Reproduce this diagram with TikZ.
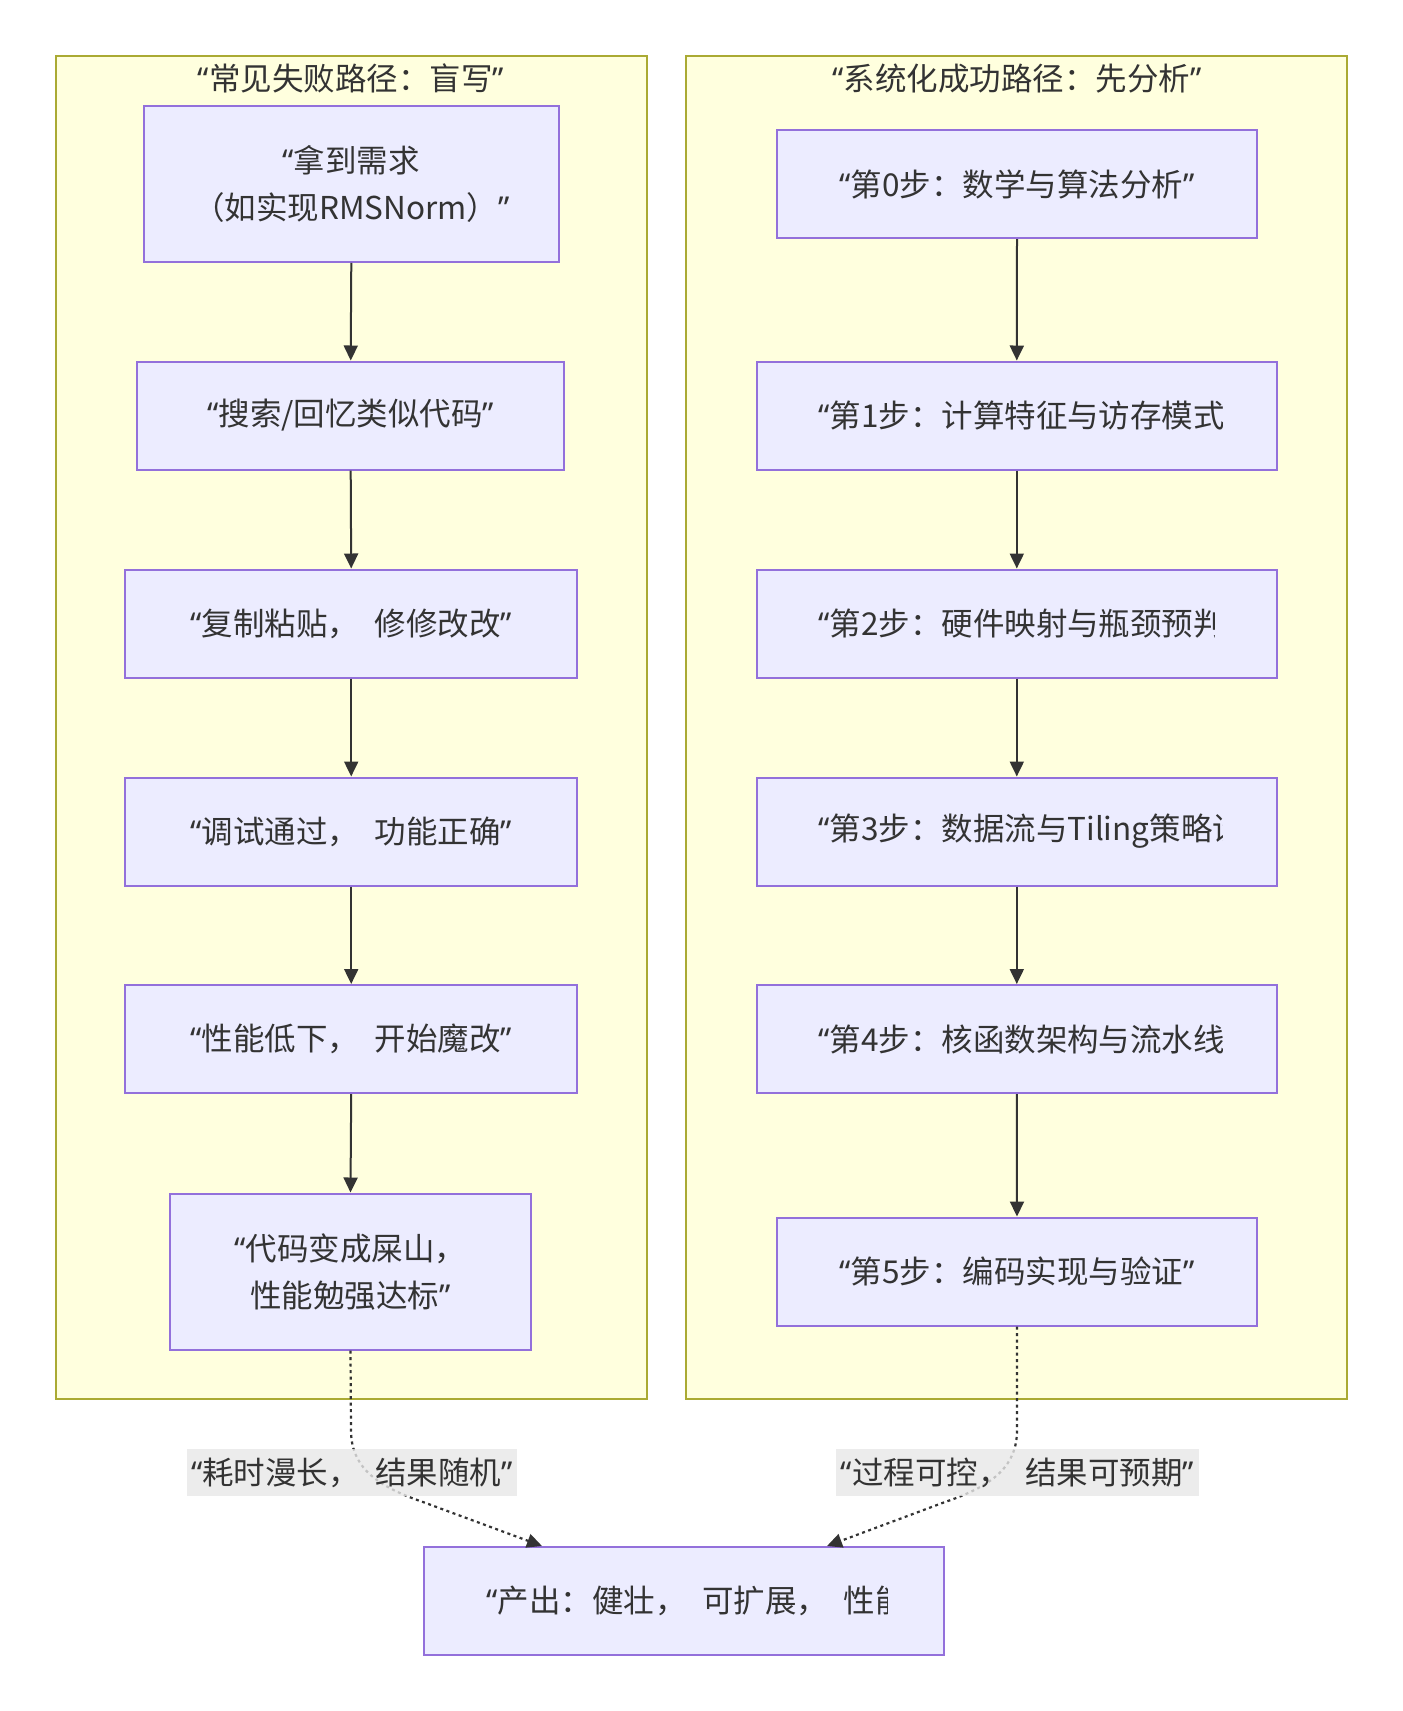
\documentclass[tikz,border=0pt]{standalone}
\usepackage{fontspec}
\setmainfont[WordSpace=2.2]{Noto Sans CJK SC}
\newfontfamily\latinfont{Noto Sans}
\usetikzlibrary{arrows.meta,calc}
\definecolor{clfill}{HTML}{FFFFDE}
\definecolor{clstroke}{HTML}{AAAA33}
\definecolor{nfill}{HTML}{ECECFF}
\definecolor{nstroke}{HTML}{9370DB}
\definecolor{ink}{HTML}{333333}
\definecolor{lblbg}{HTML}{E8E8E8}
\newcommand\oq{{\latinfont “}}
\newcommand\cq{{\latinfont ”}}
\tikzset{
  cluster/.style={draw=clstroke, fill=clfill, line width=2pt},
  box/.style={draw=nstroke, fill=nfill, line width=2pt, align=center, inner sep=0pt, text=ink},
  flow/.style={draw=ink, line width=2pt, -{Triangle[length=15pt,width=14pt]}},
  dotflow/.style={flow, line width=2.2pt, dash pattern=on 3pt off 3.5pt},
  elabel/.style={fill=lblbg, fill opacity=0.8, text opacity=1, inner sep=0pt, minimum height=47pt, text=ink},
  ttl/.style={inner sep=0pt, text=ink},
  cut/.style={anchor=west, inner sep=0pt, text=ink}
}
\begin{document}
\begin{tikzpicture}[x=1pt, y=-1pt, font=\fontsize{31.5}{47}\selectfont]
\useasboundingbox (0,0) rectangle (1403,1711);
\fill[white] (0,0) rectangle (1403,1711);
% clusters
\draw[cluster] (55.6,55.6) rectangle (647,1398.6);
\draw[cluster] (686,55.6) rectangle (1347,1398.6);
\node[ttl] (t1) at (351,78.5) {\oq 常见失败路径：盲写\cq};
\node[ttl] (t2) at (1017,78.5) {\oq 系统化成功路径：先分析\cq};
% left column
\node[box, minimum width=414.6pt, minimum height=155.8pt] (a) at (351.3,184) {\oq 拿到需求\\（如实现RMSNorm）\cq};
\node[box, minimum width=426.5pt, minimum height=108pt] (b) at (350.7,415.5) {\oq 搜索/回忆类似代码\cq};
\node[box, minimum width=451.5pt, minimum height=108pt] (c) at (351.2,623.5) {\oq 复制粘贴， 修修改改\cq};
\node[box, minimum width=451.5pt, minimum height=108pt] (d) at (351.2,831.5) {\oq 调试通过， 功能正确\cq};
\node[box, minimum width=451.5pt, minimum height=108pt] (e) at (351.2,1039) {\oq 性能低下， 开始魔改\cq};
\node[box, minimum width=361pt, minimum height=156pt] (f) at (350.5,1271.5) {\oq 代码变成屎山，\\性能勉强达标\cq};
% right column
\node[box, minimum width=480pt, minimum height=108pt] (r0) at (1017,184) {\oq 第0步：数学与算法分析\cq};
\node[box, minimum width=519.5pt, minimum height=108pt] (r1) at (1016.8,415.5) {};
\node[box, minimum width=519.5pt, minimum height=108pt] (r2) at (1016.8,623.5) {};
\node[box, minimum width=519.5pt, minimum height=108pt] (r3) at (1016.8,831.5) {};
\node[box, minimum width=519.5pt, minimum height=108pt] (r4) at (1016.8,1039) {};
\node[box, minimum width=480pt, minimum height=108pt] (r5) at (1017,1271.5) {\oq 第5步：编码实现与验证\cq};
\node[box, minimum width=519.3pt, minimum height=108pt] (out) at (684,1601) {};
% clipped texts
\begin{scope}
\clip (818,360) rectangle (1222,470);
\node[cut] (r1t) at (818,415.5) {\oq 第1步：计算特征与访存模式分析\cq};
\end{scope}
\begin{scope}
\clip (818,570) rectangle (1214,677);
\node[cut] (r2t) at (818,623.5) {\oq 第2步：硬件映射与瓶颈预判\cq};
\end{scope}
\begin{scope}
\clip (818,770) rectangle (1222,1100);
\node[cut] (r3t) at (818,831.5) {\oq 第3步：数据流与Tiling策略设计\cq};
\node[cut] (r4t) at (818,1039) {\oq 第4步：核函数架构与流水线设计\cq};
\end{scope}
\begin{scope}
\clip (486,1550) rectangle (887,1650);
\node[cut] (outt) at (486,1601) {\oq 产出：健壮， 可扩展， 性能卓越\cq};
\end{scope}
% arrows
\draw[flow] (a.south) -- (b.north);
\draw[flow] (b.south) -- (c.north);
\draw[flow] (c.south) -- (d.north);
\draw[flow] (d.south) -- (e.north);
\draw[flow] (e.south) -- (f.north);
\draw[flow] (r0.south) -- (r1.north);
\draw[flow] (r1.south) -- (r2.north);
\draw[flow] (r2.south) -- (r3.north);
\draw[flow] (r3.south) -- (r4.north);
\draw[flow] (r4.south) -- (r5.north);
\draw[dotflow] (f.south) -- (351,1430) .. controls (351,1465) and (373,1485) .. (423,1502) -- ($(out.north)+(-142,0)$);
\draw[dotflow] (r5.south) -- (1017,1430) .. controls (1017,1465) and (995,1485) .. (945,1502) -- ($(out.north)+(143,0)$);
\node[elabel, minimum width=330pt] (l1) at (352,1472.5) {\oq 耗时漫长， 结果随机\cq};
\node[elabel, minimum width=363pt] (l2) at (1017.5,1472.5) {\oq 过程可控， 结果可预期\cq};
\end{tikzpicture}
\end{document}
